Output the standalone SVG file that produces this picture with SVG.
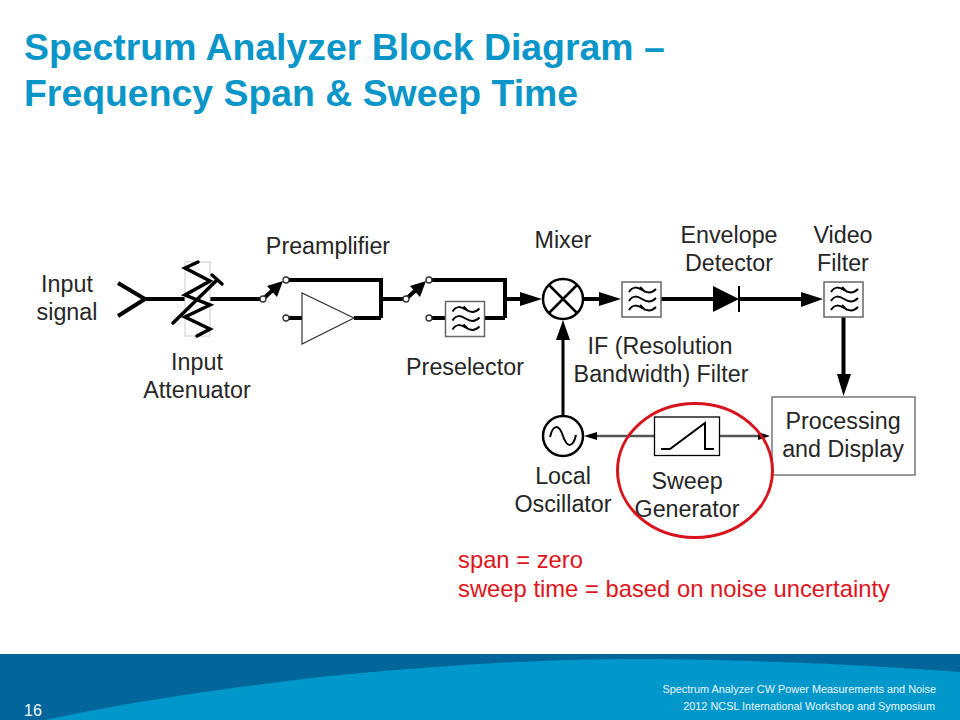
<svg xmlns="http://www.w3.org/2000/svg" width="960" height="720" viewBox="0 0 960 720" font-family="'Liberation Sans', Arial, sans-serif">
<style>
.t{font-family:'Liberation Sans',Arial,sans-serif;font-size:23.3px;fill:#262626;text-anchor:middle}
.title{font-family:'Liberation Sans',Arial,sans-serif;font-size:37.4px;font-weight:700;fill:#0a96c8}
.red{font-family:'Liberation Sans',Arial,sans-serif;font-size:23.8px;fill:#e0141c}
.foot{font-family:'Liberation Sans',Arial,sans-serif;font-size:10.9px;fill:#eaf6fb;text-anchor:end}
.w{fill:none;stroke:#000;stroke-width:4;stroke-linejoin:miter}
.z{fill:none;stroke:#000;stroke-width:3.5;stroke-linejoin:miter;stroke-linecap:round}
.n{fill:none;stroke:#000;stroke-width:3}
.g{fill:none;stroke:#555;stroke-width:2.5}
.box{fill:#fff;stroke:#666;stroke-width:1.5}
.dot{fill:#fff;stroke:#333;stroke-width:1.3}
.h{fill:#000;stroke:none}
.wave{fill:none;stroke:#000;stroke-width:2}
</style>
<defs>
<g id="filt">
<rect class="box" x="0" y="0" width="39" height="35"/>
<path class="wave" d="M7 10 C11 4 15 5 20 8 S29 12 34 7 M7 19 C11 13 15 14 20 17 S29 21 34 16 M7 28 C11 22 15 23 20 26 S29 30 34 25 M18 5 L23 10 M18 23 L23 28"/>
</g>
</defs>
<rect width="960" height="720" fill="#fff"/>
<g id="footer">
<rect x="0" y="654" width="960" height="66" fill="#02669c"/>
<path d="M45 720 C150 698 230 688 320 677 C450 664 560 658 660 659 C780 661 880 666 960 672 L960 720 Z" fill="#0098cb"/>
<text x="33" y="716" font-size="16" fill="#f2f8fb" font-family="'Liberation Sans',Arial,sans-serif" text-anchor="middle">16</text>
<text class="foot" x="936" y="693">Spectrum Analyzer CW Power Measurements and Noise</text>
<text class="foot" x="935" y="710">2012 NCSL International Workshop and Symposium</text>
</g>
<text class="title" x="24" y="60">Spectrum Analyzer Block Diagram –</text>
<text class="title" x="24" y="106">Frequency Span &amp; Sweep Time</text>
<g id="connectors">
<path class="w" d="M118 283 L145 299 L118 316"/>
<path class="w" d="M145 299H185M210 299H261M288 280H381V318M381 299H403M354 318H381M289 318H302"/>
<path class="w" d="M403 299H406M431 280H505V318M505 299H522M432 318H445M485 318H505"/>
<path class="w" d="M583 299H602M661 299H715M739 299H803"/>
<path class="w" d="M843.500 317V376"/>
<path class="n" d="M563 416V338"/>
<path class="g" d="M597 436H654M719 436H760"/>
<path class="w" d="M263 299L274 289M406 299L417 289"/>
<path class="h" d="M283 281L277 297L267 286ZM426 281L420 297L410 286Z"/>
<path class="h" d="M542 299L520 292V306ZM621 299L599 292V306ZM823 299L801 292V307ZM843.500 396L837 374H851ZM563 320L556 340H570ZM584 436L597 432V440ZM770 436L758 432V440Z"/>
</g>
<g id="input-attenuator">
<rect x="185" y="262" width="25" height="74" fill="none" stroke="#ccc" stroke-width="1"/>
<path class="z" d="M198 262L185 268L210 281L185 295L210 305L185 317L210 329L197 336"/>
<path class="z" d="M173 323L217 280M212 275L222 284"/>
</g>
<g id="switch-dots">
<circle class="dot" cx="263" cy="299" r="3"/>
<circle class="dot" cx="286" cy="280" r="3"/>
<circle class="dot" cx="286" cy="318" r="3"/>
<circle class="dot" cx="406" cy="299" r="3"/>
<circle class="dot" cx="429" cy="280" r="3"/>
<circle class="dot" cx="429" cy="318" r="3"/>
</g>
<g id="preamplifier"><path d="M302 293L302 344L354 318Z" fill="#fff" stroke="#333" stroke-width="1.2"/></g>
<g id="preselector"><use href="#filt" x="445.500" y="301.500"/></g>
<g id="mixer">
<circle cx="563" cy="299" r="20" fill="#fff" stroke="#000" stroke-width="2.500"/>
<path d="M549 285L577 313M577 285L549 313" stroke="#000" stroke-width="2.500"/>
</g>
<g id="if-filter"><use href="#filt" x="622" y="282"/></g>
<g id="envelope-detector"><path class="h" d="M713 286V312L739 299Z"/><path d="M739 286V312" stroke="#000" stroke-width="2"/></g>
<g id="video-filter"><use href="#filt" x="824" y="282"/></g>
<g id="processing"><rect x="772" y="397" width="143" height="78" fill="#fff" stroke="#777" stroke-width="1.500"/></g>
<g id="local-oscillator">
<circle cx="563" cy="436" r="20" fill="#fff" stroke="#000" stroke-width="2.500"/>
<path d="M550 437C553 424 559 424 563 436S573 448 576 435" fill="none" stroke="#000" stroke-width="2"/>
</g>
<g id="sweep-generator">
<rect x="654.500" y="417" width="65" height="38.500" fill="#fff" stroke="#000" stroke-width="1.300"/>
<path d="M661 449H670L705 423V449H714" fill="none" stroke="#000" stroke-width="2"/>
</g>
<g id="labels">
<text class="t" x="67" y="292">Input</text>
<text class="t" x="67" y="320">signal</text>
<text class="t" x="197" y="370">Input</text>
<text class="t" x="197" y="398">Attenuator</text>
<text class="t" x="328" y="254">Preamplifier</text>
<text class="t" x="465" y="375">Preselector</text>
<text class="t" x="563" y="248">Mixer</text>
<text class="t" x="729" y="243">Envelope</text>
<text class="t" x="729" y="271">Detector</text>
<text class="t" x="843" y="243">Video</text>
<text class="t" x="843" y="271">Filter</text>
<text class="t" x="660" y="354">IF (Resolution</text>
<text class="t" x="661" y="382">Bandwidth) Filter</text>
<text class="t" x="843" y="429">Processing</text>
<text class="t" x="843" y="457">and Display</text>
<text class="t" x="563" y="484">Local</text>
<text class="t" x="563" y="512">Oscillator</text>
<text class="t" x="687" y="489">Sweep</text>
<text class="t" x="687" y="517">Generator</text>
<text class="red" x="458" y="568">span = zero</text>
<text class="red" x="458" y="597">sweep time = based on noise uncertainty</text>
</g>
<ellipse id="highlight" cx="695" cy="470.500" rx="77.500" ry="67" fill="none" stroke="#d9131b" stroke-width="3"/>
</svg>
